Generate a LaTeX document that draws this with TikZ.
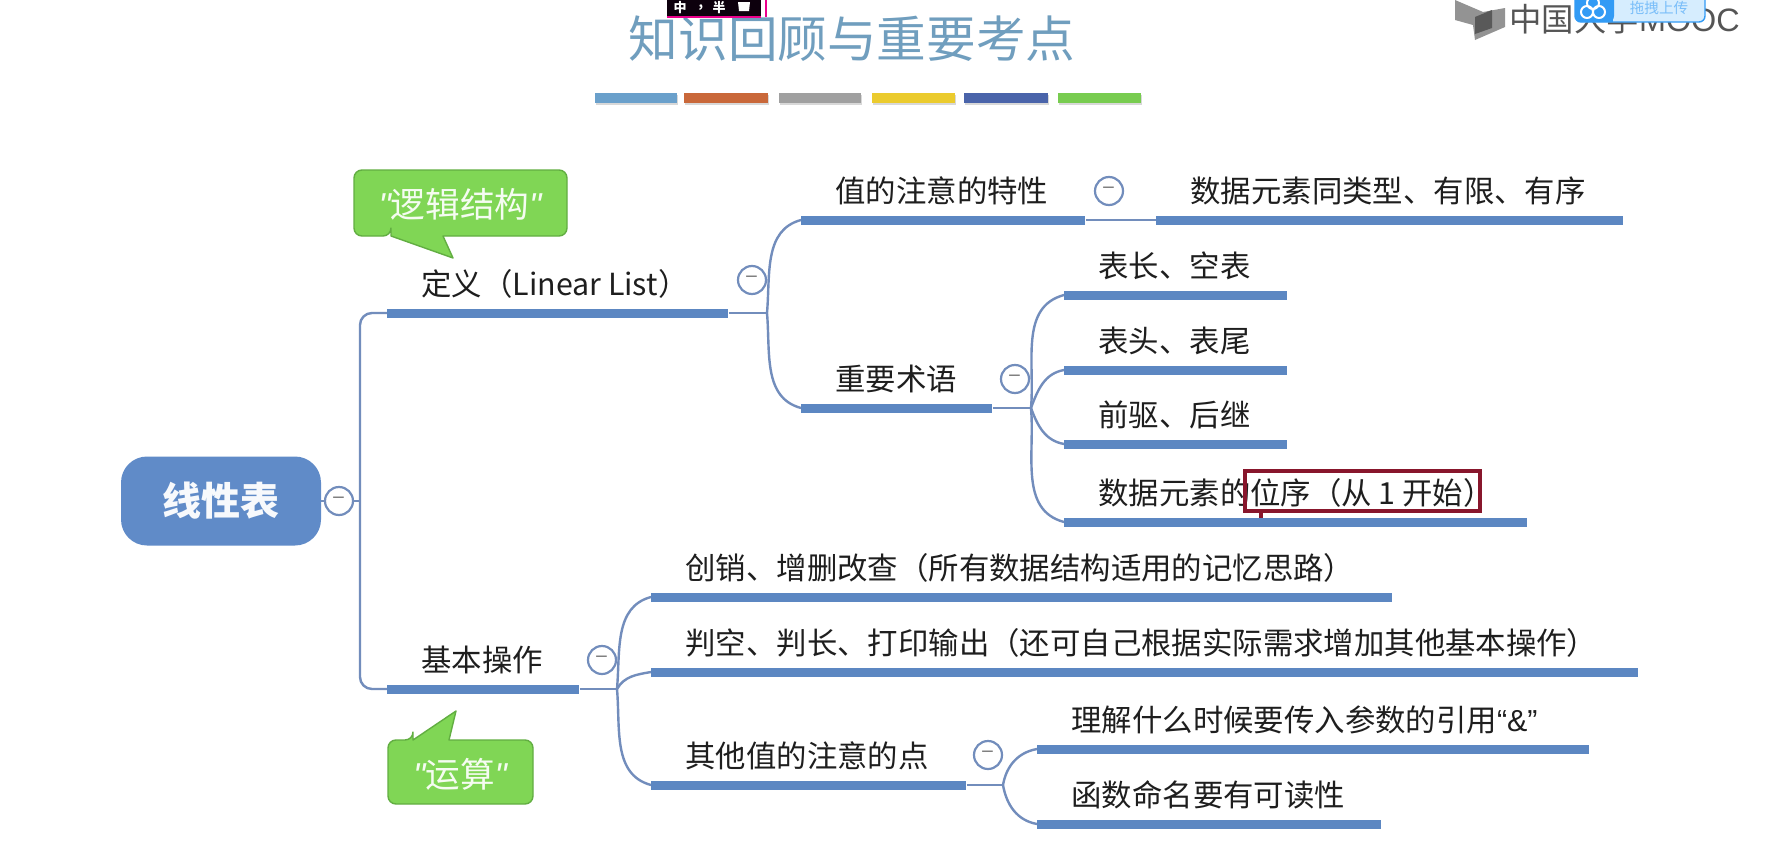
\documentclass[tikz,border=0pt]{standalone}
\usepackage{xcolor}
\usepackage{fontspec}
\setmainfont{Noto Sans CJK SC}
\newfontfamily\latn{Liberation Sans}
\usetikzlibrary{shadows}
\definecolor{MapBlue}{RGB}{92,135,194}
\definecolor{MapLine}{RGB}{114,141,188}
\definecolor{RootBlue}{RGB}{96,139,200}
\definecolor{TitleBlue}{RGB}{112,158,190}
\definecolor{NoteGreen}{RGB}{128,214,85}
\definecolor{NoteEdge}{RGB}{98,174,66}
\definecolor{BoxRed}{RGB}{136,22,44}
\definecolor{TextBlack}{RGB}{30,30,30}
\definecolor{LogoGray}{RGB}{85,85,85}
\definecolor{WidgetBlue}{RGB}{50,155,245}
\definecolor{WidgetPale}{RGB}{214,237,254}
\definecolor{StripBlue}{RGB}{106,160,203}
\definecolor{StripOrange}{RGB}{201,104,58}
\definecolor{StripGray}{RGB}{160,160,160}
\definecolor{StripYellow}{RGB}{235,203,46}
\definecolor{StripNavy}{RGB}{74,100,170}
\definecolor{StripGreen}{RGB}{120,204,80}

\begin{document}
\begin{tikzpicture}[
  x=0.5pt, y=-0.5pt,
  bar/.style={
    fill=MapBlue,
    anchor=west,
    minimum height=4.5pt,
    inner sep=0pt,
  },
  lbl/.style={
    anchor=base west,
    inner sep=0pt,
    xshift=17pt,
    yshift=9pt,
    text=TextBlack,
    font=\fontsize{15.2}{18}\selectfont,
  },
  conn/.style={draw=MapLine, line width=1.2pt},
  fold/.style={
    circle,
    draw=MapLine,
    fill=white,
    line width=1.1pt,
    minimum size=14pt,
    inner sep=0pt,
    text=gray,
    font=\fontsize{12}{12}\selectfont,
  },
  strip/.style={
    minimum height=5pt,
    inner sep=0pt,
    drop shadow={shadow xshift=0.3pt, shadow yshift=-1.2pt, opacity=0.3},
  },
  callout/.style={fill=NoteGreen, draw=NoteEdge, line width=0.7pt, line join=round},
  notetext/.style={text=white!92!NoteGreen, font=\fontsize{17.3}{20}\selectfont},
  tray/.style={text=white, font=\fontsize{6.5}{8}\selectfont\bfseries, inner sep=0pt},
]
  \useasboundingbox[fill=white] (0,0) rectangle (1769,857);

  % title and colour strips
  \node[text=TitleBlue, font=\fontsize{24.8}{28}\selectfont] (title) at (852,39) {知识回顾与重要考点};
  \node[strip, fill=StripBlue, minimum width=41pt] (s1) at (636,98) {};
  \node[strip, fill=StripOrange, minimum width=42pt] (s2) at (726,98) {};
  \node[strip, fill=StripGray, minimum width=41pt] (s3) at (820,98) {};
  \node[strip, fill=StripYellow, minimum width=41.5pt] (s4) at (913.5,98) {};
  \node[strip, fill=StripNavy, minimum width=42pt] (s5) at (1006,98) {};
  \node[strip, fill=StripGreen, minimum width=41.5pt] (s6) at (1099.5,98) {};

  % input method tray
  \fill[black!90!violet] (667,0) rectangle (761,16);
  \draw[magenta, line width=0.6pt] (667,17) -- (761,17);
  \draw[magenta, line width=0.8pt] (766,0) -- (766,17);
  \node[tray] (imea) at (680,8) {中};
  \node[tray] (imeb) at (701,8) {,};
  \node[tray] (imec) at (719,8) {半};
  \fill[white] (738,2) -- (750,2) -- (749,11) -- (739,11) -- cycle;

  % logo and upload widget
  \fill[gray!85] (1455,0) -- (1483,12) -- (1505,8) -- (1505,27) -- (1475,40) -- (1473,25) -- (1455,20) -- cycle;
  \fill[black!65] (1475,17) -- (1492,10) -- (1492,28) -- (1475,34) -- cycle;
  \node[anchor=west, inner sep=0pt, text=LogoGray, font=\fontsize{16.2}{18}\selectfont] (logo) at (1509,19) {中国大学{\latn MOOC}};
  \draw[fill=WidgetPale, draw=WidgetBlue, line width=0.7pt, rounded corners=3pt] (1575,-8) rectangle (1705,22);
  \fill[WidgetBlue, rounded corners=3pt] (1575,-8) rectangle (1614,22);
  \fill[WidgetBlue] (1600,-8) rectangle (1613,22);
  \draw[white, line width=1pt] (1593,3) circle (3pt) (1587,12) circle (3pt) (1599,12) circle (3pt);
  \node[text=WidgetBlue!65, font=\fontsize{7.3}{8}\selectfont, inner sep=0pt] (upload) at (1659,8) {拖拽上传};

  % callouts
  \draw[callout] (391,236) -- (453,258) -- (443,236) [rounded corners=4pt] -- (567,236) -- (567,170) -- (354,170) -- (354,236) -- (391,236) [sharp corners] -- cycle;
  \node[notetext] (logic) at (460,204) {{\latn\itshape"}逻辑结构{\latn\itshape"}};
  \draw[callout] (413,740) -- (456,711) -- (449,740) [rounded corners=4pt] -- (533,740) -- (533,804) -- (388,804) -- (388,740) -- (413,740) [sharp corners] -- cycle;
  \node[notetext] (calc) at (460,774) {{\latn\itshape"}运算{\latn\itshape"}};

  % root
  \node[fill=RootBlue, rounded corners=13pt, minimum width=100pt, minimum height=44.5pt, text=white!95!RootBlue, font=\fontsize{19.5}{22}\selectfont\bfseries] (root) at (221,501) {线性表};
  \node[fold] (froot) at (339,501) {--};
  \coordinate (trunk) at (360,501);

  % bars
  \node[bar, minimum width=170.5pt] (def) at (387,313) {};
  \node[bar, minimum width=96pt] (base) at (387,689) {};
  \node[bar, minimum width=142pt] (val) at (801,220) {};
  \node[bar, minimum width=233.5pt] (valsub) at (1156,220) {};
  \node[bar, minimum width=95.5pt] (term) at (801,408) {};
  \node[bar, minimum width=111.5pt] (ta) at (1064,295) {};
  \node[bar, minimum width=111.5pt] (tb) at (1064,370) {};
  \node[bar, minimum width=111.5pt] (tc) at (1064,444) {};
  \node[bar, minimum width=231.5pt] (td) at (1064,522) {};
  \node[bar, minimum width=370.5pt] (opa) at (651,597) {};
  \node[bar, minimum width=493.5pt] (opb) at (651,672) {};
  \node[bar, minimum width=157.5pt] (opc) at (651,785) {};
  \node[bar, minimum width=276pt] (ra) at (1037,749) {};
  \node[bar, minimum width=172pt] (rb) at (1037,824) {};

  % labels
  \node[lbl] (ldef) at (def.west) {定义（Linear List）};
  \node[lbl] (lbase) at (base.west) {基本操作};
  \node[lbl] (lval) at (val.west) {值的注意的特性};
  \node[lbl] (lvalsub) at (valsub.west) {数据元素同类型、有限、有序};
  \node[lbl] (lterm) at (term.west) {重要术语};
  \node[lbl] (lta) at (ta.west) {表长、空表};
  \node[lbl] (ltb) at (tb.west) {表头、表尾};
  \node[lbl] (ltc) at (tc.west) {前驱、后继};
  \node[lbl] (ltd) at (td.west) {数据元素的位序（从 1 开始）};
  \node[lbl] (lopa) at (opa.west) {创销、增删改查（所有数据结构适用的记忆思路）};
  \node[lbl] (lopb) at (opb.west) {判空、判长、打印输出（还可自己根据实际需求增加其他基本操作）};
  \node[lbl] (lopc) at (opc.west) {其他值的注意的点};
  \node[lbl] (lra) at (ra.west) {理解什么时候要传入参数的引用{\latn“\&”}};
  \node[lbl] (lrb) at (rb.west) {函数命名要有可读性};

  % fold marks
  \node[fold] (fdef) at (752,280) {--};
  \node[fold] (fbase) at (602,660) {--};
  \node[fold] (fval) at (1109,191) {--};
  \node[fold] (fterm) at (1015,379) {--};
  \node[fold] (fopc) at (988,755) {--};

  % red box
  \node[draw=BoxRed, line width=2pt, minimum width=117.5pt, minimum height=20pt, inner sep=0pt] (mark) at (1362.5,491) {};
  \coordinate (marktip) at (1261,518);
  \draw[BoxRed, line width=1.6pt] (mark.south -| marktip) -- (marktip);

  % connectors
  \coordinate (forkdef) at (767,313);
  \coordinate (forkterm) at (1031,408);
  \coordinate (forkbase) at (617,689);
  \coordinate (forkopc) at (1003,785);
  \draw[conn] (root) -- (froot);
  \draw[conn] (froot) -- (trunk);
  \draw[conn, rounded corners=6pt] (def.west) -- (def.west -| trunk) -- (base.west -| trunk) -- (base.west);
  \draw[conn] (def.east) -- (forkdef);
  \draw[conn] (forkdef) to[out=85, in=195] (val.west);
  \draw[conn] (forkdef) to[out=-85, in=165] (term.west);
  \draw[conn] (val.east) -- (valsub.west);
  \draw[conn] (term.east) -- (forkterm);
  \draw[conn] (forkterm) to[out=85, in=195] (ta.west);
  \draw[conn] (forkterm) to[out=70, in=190] (tb.west);
  \draw[conn] (forkterm) to[out=-70, in=170] (tc.west);
  \draw[conn] (forkterm) to[out=-85, in=165] (td.west);
  \draw[conn] (base.east) -- (forkbase);
  \draw[conn] (forkbase) to[out=85, in=195] (opa.west);
  \draw[conn] (forkbase) to[out=60, in=190] (opb.west);
  \draw[conn] (forkbase) to[out=-85, in=165] (opc.west);
  \draw[conn] (opc.east) -- (forkopc);
  \draw[conn] (forkopc) to[out=80, in=190] (ra.west);
  \draw[conn] (forkopc) to[out=-80, in=170] (rb.west);
\end{tikzpicture}
\end{document}
